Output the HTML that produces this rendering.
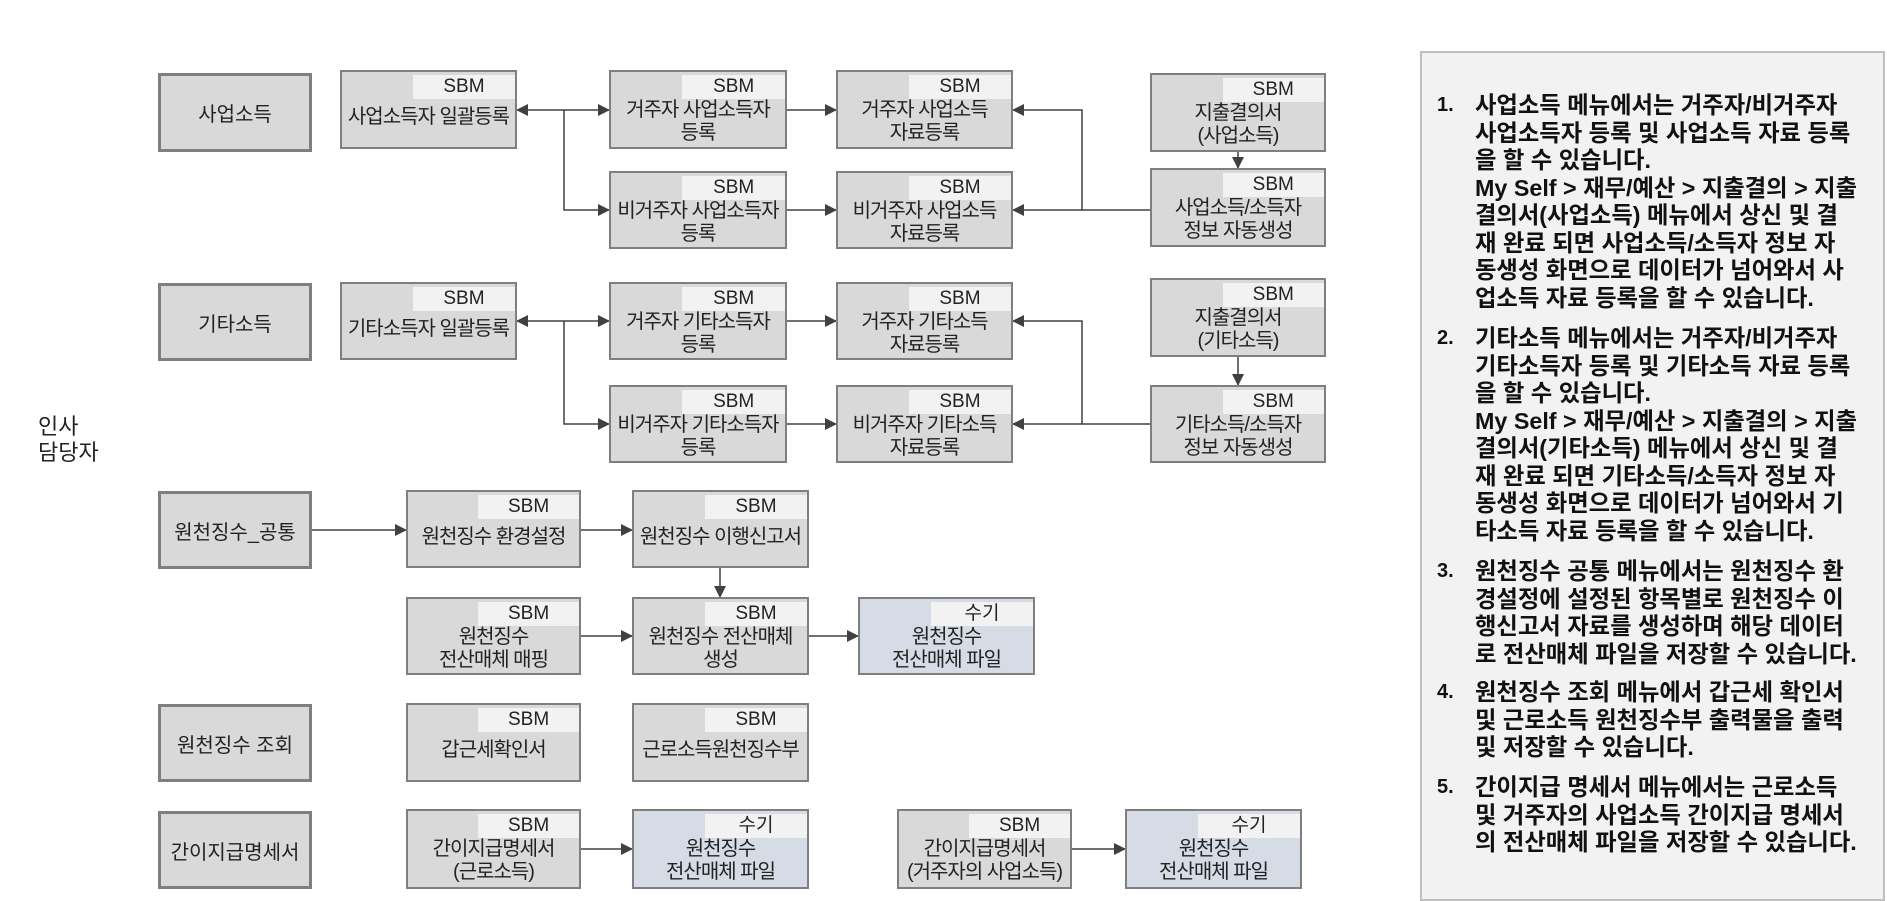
<!DOCTYPE html>
<html><head><meta charset="utf-8">
<style>
body{margin:0;width:1887px;height:901px;background:#fff;position:relative;overflow:hidden;font-family:"Liberation Sans","Noto Sans CJK KR",sans-serif;}
.b{position:absolute;box-sizing:border-box;background:#d9d9d9;border:2px solid #7f7f7f;}
.c{display:flex;align-items:center;justify-content:center;font-size:20px;color:#222;border-width:3px;}
.t{position:absolute;right:0;top:3px;width:59%;height:24px;background:#f2f2f2;font-size:19px;line-height:24px;text-align:center;color:#222;}
.l{position:absolute;left:-10px;right:-10px;top:27px;text-align:center;font-size:20px;line-height:23px;color:#222;letter-spacing:-1px;white-space:nowrap;}
.l1{top:34px;}
.blue{background:#d6dce5;}
.p{position:absolute;left:1420px;top:51px;width:465px;height:850px;box-sizing:border-box;background:#f2f2f2;border:2px solid #bfbfbf;}
.it{position:absolute;left:1437px;font-weight:bold;font-size:23.3px;line-height:27.5px;white-space:nowrap;color:#111;}
.it .n{position:absolute;left:0;top:0;font-size:20px;}
.it .x{position:absolute;left:38px;top:0;}
</style></head><body>
<svg width="1887" height="901" style="position:absolute;left:0;top:0" >
<defs>
<marker id="a2" markerWidth="12" markerHeight="12" refX="11" refY="6" orient="auto" markerUnits="userSpaceOnUse"><path d="M0,0L12,6L0,12z" fill="#404040"/></marker></defs>
<g stroke="#404040" stroke-width="1.5" fill="none">
<path d="M564,110H517" marker-end="url(#a2)"/><path d="M564,110H609" marker-end="url(#a2)"/><path d="M564,110V210H609" marker-end="url(#a2)"/>
<path d="M787,110H836" marker-end="url(#a2)"/><path d="M787,210H836" marker-end="url(#a2)"/>
<path d="M1238,152V168" marker-end="url(#a2)"/>
<path d="M1150,210H1082V110H1013" marker-end="url(#a2)"/><path d="M1082,210H1013" marker-end="url(#a2)"/>
<path d="M564,321H517" marker-end="url(#a2)"/><path d="M564,321H609" marker-end="url(#a2)"/><path d="M564,321V424H609" marker-end="url(#a2)"/>
<path d="M787,321H836" marker-end="url(#a2)"/><path d="M787,424H836" marker-end="url(#a2)"/>
<path d="M1238,357V385" marker-end="url(#a2)"/>
<path d="M1150,424H1082V321H1013" marker-end="url(#a2)"/><path d="M1082,424H1013" marker-end="url(#a2)"/>
<path d="M312,530H406" marker-end="url(#a2)"/><path d="M581,530H632" marker-end="url(#a2)"/>
<path d="M720,568V597" marker-end="url(#a2)"/>
<path d="M581,636H632" marker-end="url(#a2)"/><path d="M809,636H858" marker-end="url(#a2)"/>
<path d="M581,849H632" marker-end="url(#a2)"/><path d="M1072,849H1125" marker-end="url(#a2)"/>
</g></svg>

<div style="position:absolute;left:38px;top:414px;font-size:22px;line-height:26px;color:#222">인사<br>담당자</div>

<div class="b c" style="left:158px;top:73px;width:154px;height:79px">사업소득</div>
<div class="b c" style="left:158px;top:283px;width:154px;height:78px">기타소득</div>
<div class="b c" style="left:158px;top:491px;width:154px;height:78px">원천징수_공통</div>
<div class="b c" style="left:158px;top:704px;width:154px;height:78px">원천징수 조회</div>
<div class="b c" style="left:158px;top:811px;width:154px;height:78px">간이지급명세서</div>

<div class="b" style="left:340px;top:70px;width:177px;height:79px"><div class="t">SBM</div><div class="l l1">사업소득자 일괄등록</div></div>
<div class="b" style="left:609px;top:70px;width:178px;height:79px"><div class="t">SBM</div><div class="l">거주자 사업소득자<br>등록</div></div>
<div class="b" style="left:836px;top:70px;width:177px;height:79px"><div class="t">SBM</div><div class="l">거주자 사업소득<br>자료등록</div></div>
<div class="b" style="left:1150px;top:73px;width:176px;height:79px"><div class="t">SBM</div><div class="l">지출결의서<br>(사업소득)</div></div>
<div class="b" style="left:609px;top:171px;width:178px;height:78px"><div class="t">SBM</div><div class="l">비거주자 사업소득자<br>등록</div></div>
<div class="b" style="left:836px;top:171px;width:177px;height:78px"><div class="t">SBM</div><div class="l">비거주자 사업소득<br>자료등록</div></div>
<div class="b" style="left:1150px;top:168px;width:176px;height:79px"><div class="t">SBM</div><div class="l">사업소득/소득자<br>정보 자동생성</div></div>

<div class="b" style="left:340px;top:282px;width:177px;height:78px"><div class="t">SBM</div><div class="l l1">기타소득자 일괄등록</div></div>
<div class="b" style="left:609px;top:282px;width:178px;height:78px"><div class="t">SBM</div><div class="l">거주자 기타소득자<br>등록</div></div>
<div class="b" style="left:836px;top:282px;width:177px;height:78px"><div class="t">SBM</div><div class="l">거주자 기타소득<br>자료등록</div></div>
<div class="b" style="left:1150px;top:278px;width:176px;height:79px"><div class="t">SBM</div><div class="l">지출결의서<br>(기타소득)</div></div>
<div class="b" style="left:609px;top:385px;width:178px;height:78px"><div class="t">SBM</div><div class="l">비거주자 기타소득자<br>등록</div></div>
<div class="b" style="left:836px;top:385px;width:177px;height:78px"><div class="t">SBM</div><div class="l">비거주자 기타소득<br>자료등록</div></div>
<div class="b" style="left:1150px;top:385px;width:176px;height:78px"><div class="t">SBM</div><div class="l">기타소득/소득자<br>정보 자동생성</div></div>

<div class="b" style="left:406px;top:490px;width:175px;height:78px"><div class="t">SBM</div><div class="l l1">원천징수 환경설정</div></div>
<div class="b" style="left:632px;top:490px;width:177px;height:78px"><div class="t">SBM</div><div class="l l1">원천징수 이행신고서</div></div>
<div class="b" style="left:406px;top:597px;width:175px;height:78px"><div class="t">SBM</div><div class="l">원천징수<br>전산매체 매핑</div></div>
<div class="b" style="left:632px;top:597px;width:177px;height:78px"><div class="t">SBM</div><div class="l">원천징수 전산매체<br>생성</div></div>
<div class="b blue" style="left:858px;top:597px;width:177px;height:78px"><div class="t">수기</div><div class="l">원천징수<br>전산매체 파일</div></div>

<div class="b" style="left:406px;top:703px;width:175px;height:79px"><div class="t">SBM</div><div class="l l1">갑근세확인서</div></div>
<div class="b" style="left:632px;top:703px;width:177px;height:79px"><div class="t">SBM</div><div class="l l1">근로소득원천징수부</div></div>

<div class="b" style="left:406px;top:809px;width:175px;height:80px"><div class="t">SBM</div><div class="l">간이지급명세서<br>(근로소득)</div></div>
<div class="b blue" style="left:632px;top:809px;width:177px;height:80px"><div class="t">수기</div><div class="l">원천징수<br>전산매체 파일</div></div>
<div class="b" style="left:897px;top:809px;width:175px;height:80px"><div class="t">SBM</div><div class="l">간이지급명세서<br>(거주자의 사업소득)</div></div>
<div class="b blue" style="left:1125px;top:809px;width:177px;height:80px"><div class="t">수기</div><div class="l">원천징수<br>전산매체 파일</div></div>

<div class="p"></div>
<div class="it" style="top:92px"><span class="n">1.</span><div class="x">사업소득 메뉴에서는 거주자/비거주자<br>사업소득자 등록 및 사업소득 자료 등록<br>을 할 수 있습니다.<br>My Self &gt; 재무/예산 &gt; 지출결의 &gt; 지출<br>결의서(사업소득) 메뉴에서 상신 및 결<br>재 완료 되면 사업소득/소득자 정보 자<br>동생성 화면으로 데이터가 넘어와서 사<br>업소득 자료 등록을 할 수 있습니다.</div></div>
<div class="it" style="top:325px"><span class="n">2.</span><div class="x">기타소득 메뉴에서는 거주자/비거주자<br>기타소득자 등록 및 기타소득 자료 등록<br>을 할 수 있습니다.<br>My Self &gt; 재무/예산 &gt; 지출결의 &gt; 지출<br>결의서(기타소득) 메뉴에서 상신 및 결<br>재 완료 되면 기타소득/소득자 정보 자<br>동생성 화면으로 데이터가 넘어와서 기<br>타소득 자료 등록을 할 수 있습니다.</div></div>
<div class="it" style="top:558px"><span class="n">3.</span><div class="x">원천징수 공통 메뉴에서는 원천징수 환<br>경설정에 설정된 항목별로 원천징수 이<br>행신고서 자료를 생성하며 해당 데이터<br>로 전산매체 파일을 저장할 수 있습니다.</div></div>
<div class="it" style="top:679px"><span class="n">4.</span><div class="x">원천징수 조회 메뉴에서 갑근세 확인서<br>및 근로소득 원천징수부 출력물을 출력<br>및 저장할 수 있습니다.</div></div>
<div class="it" style="top:774px"><span class="n">5.</span><div class="x">간이지급 명세서 메뉴에서는 근로소득<br>및 거주자의 사업소득 간이지급 명세서<br>의 전산매체 파일을 저장할 수 있습니다.</div></div>
</body></html>
